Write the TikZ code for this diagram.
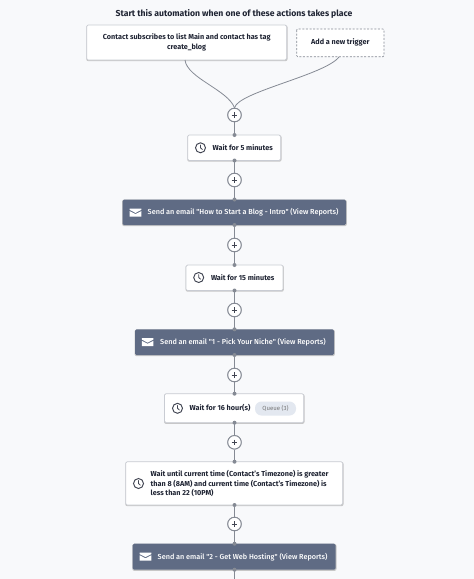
\documentclass[tikz,border=0pt]{standalone}
\usepackage{fontspec}
\setmainfont{Fira Sans}
\newfontfamily\mediumface{Fira Sans Medium}
\usetikzlibrary{calc}
\definecolor{bg}{HTML}{F8F9FB}
\definecolor{slate}{HTML}{5F6B84}
\definecolor{ink}{HTML}{1F2433}
\definecolor{conn}{HTML}{858A94}
\definecolor{edge}{HTML}{C9CCD3}
\definecolor{queue}{HTML}{E3E8F0}
\tikzset{
  x=1pt,y=-1pt,
  txt/.style={font=\fontsize{7.25}{9.7}\selectfont\bfseries,text=ink,align=center,inner sep=0pt},
  mailtxt/.style={font=\fontsize{7.28}{9.7}\selectfont\mediumface,text=white,inner sep=0pt,anchor=west},
  card/.style={draw=edge,line width=.7pt,fill=white,rounded corners=1.5pt},
  emailbox/.style={fill=slate,rounded corners=1.5pt},
  shade/.style={fill=black!22,rounded corners=2pt},
  addbtn/.style={circle,draw=conn,line width=.9pt,fill=white,minimum size=13.5pt,inner sep=0pt},
  link/.style={draw=conn,line width=1.1pt},
  curve/.style={draw=conn,line width=.8pt},
  joint/.style={circle,fill=conn,minimum size=4pt,inner sep=0pt},
}
% name, x1, y1, x2, y2
\newcommand{\cardbox}[5]{%
  \fill[shade] (#2-.4,#3+.2) rectangle (#4+.8,#5+1.2);
  \path[card] (#2,#3) rectangle (#4,#5);
  \coordinate (#1) at ({(#2+#4)/2},{(#3+#5)/2});
  \coordinate (#1t) at (234.5,#3);
  \coordinate (#1b) at (234.5,#5);
}
\newcommand{\mailbox}[5]{%
  \fill[shade] (#2-.4,#3+.2) rectangle (#4+.8,#5+1.2);
  \path[emailbox] (#2,#3) rectangle (#4,#5);
  \coordinate (#1) at ({(#2+#4)/2},{(#3+#5)/2});
  \coordinate (#1t) at (234.5,#3);
  \coordinate (#1b) at (234.5,#5);
}
\newcommand{\clockicon}[2]{%
  \draw[ink!85,line width=.95pt] (#1,#2) circle (5);
  \draw[ink!85,line width=.8pt,line cap=round,line join=round] (#1,#2-2.9) -- (#1,#2) -- (#1+1.9,#2+1.7);
}
\newcommand{\envicon}[2]{%
  \fill[white] (#1-5.8,#2-4) -- (#1+5.8,#2-4) -- (#1+5.8,#2-2.6) -- (#1,#2+.4) -- (#1-5.8,#2-2.6) -- cycle;
  \fill[white] (#1-5.8,#2-1.4) -- (#1,#2+1.6) -- (#1+5.8,#2-1.4) -- (#1+5.8,#2+4) -- (#1-5.8,#2+4) -- cycle;
}
\begin{document}
\begin{tikzpicture}
\useasboundingbox (0,0) rectangle (474,579);
\fill[bg] (0,0) rectangle (474,579);

\node[txt,font=\fontsize{8.65}{10}\selectfont\bfseries] (title) at (234,14) {Start this automation when one of these actions takes place};

\cardbox{trig}{86.7}{25}{286.7}{60}
\node[txt] (trigt) at (186.7,42.3) {Contact subscribes to list Main and contact has tag\\create\_blog};
\path[draw=conn,line width=.7pt,dash pattern=on 2pt off 1.6pt,fill=white,rounded corners=1pt] (296.7,29) rectangle (384,56.7);
\coordinate (add) at (340.3,42.8);
\node[txt] (addt) at (add) {Add a new trigger};

\node[addbtn] (p1) at (234.5,115) {};
\coordinate (tr1) at (185,60);
\coordinate (tr2) at (339,57);
\draw[curve] (tr1) .. controls (187,78) and (228,90) .. (p1.north);
\draw[curve] (tr2) .. controls (325,75) and (238,92) .. (p1.north);

\cardbox{w1}{187.7}{135}{280.7}{160.5}
\cardbox{w2}{186}{265}{283}{290.5}
\cardbox{w3}{164.5}{393.7}{303.7}{422.7}
\cardbox{w4}{125.7}{461.7}{342.7}{505}
\mailbox{m1}{122.5}{199.5}{346}{225}
\mailbox{m2}{135}{329.3}{334}{355}
\mailbox{m3}{132.7}{543.7}{335.7}{569.7}
\coordinate (end) at (234.5,579);

\node[addbtn] (p2) at (234.5,180) {};
\node[addbtn] (p3) at (234.5,245) {};
\node[addbtn] (p4) at (234.5,310) {};
\node[addbtn] (p5) at (234.5,375) {};
\node[addbtn] (p6) at (234.5,442.3) {};
\node[addbtn] (p7) at (234.5,524) {};

\foreach \a/\b in {p1/w1t,w1b/p2,p2/m1t,m1b/p3,p3/w2t,w2b/p4,p4/m2t,m2b/p5,p5/w3t,w3b/p6,p6/w4t,w4b/p7,p7/m3t,m3b/end}
  \draw[link] (\a) -- (\b);
\foreach \j in {w1t,w1b,m1t,m1b,w2t,w2b,m2t,m2b,w3t,w3b,w4t,w4b,m3t,m3b}
  \node[joint] at (\j) {};
\foreach \p in {p1,p2,p3,p4,p5,p6,p7} {
  \node[addbtn] at (\p) {};
  \draw[ink!85,line width=.6pt] ($(\p)+(-2.8,0)$) -- ($(\p)+(2.8,0)$) ($(\p)+(0,-2.8)$) -- ($(\p)+(0,2.8)$);
}

\clockicon{200.5}{147.8}
\node[txt,anchor=west] (w1t2) at (212.5,147.8) {Wait for 5 minutes};
\clockicon{198.7}{277.5}
\node[txt,anchor=west] (w2t2) at (210.8,277.5) {Wait for 15 minutes};
\clockicon{177.5}{408.3}
\node[txt,anchor=west] (w3t2) at (189.5,408.3) {Wait for 16 hour(s)};
\fill[queue,rounded corners=6.5pt] (255,401.5) rectangle (296,415.5);
\node[txt,font=\fontsize{6}{8}\selectfont,text=black!55] (qt) at (275.5,408.5) {Queue (3)};
\clockicon{138.5}{483.5}
\node[txt,anchor=west,align=left] (w4t2) at (150.5,483.5) {Wait until current time (Contact's Timezone) is greater\\than 8 (8AM) and current time (Contact's Timezone) is\\less than 22 (10PM)};

\envicon{135.5}{212.5}
\node[mailtxt] (m1t2) at (147.5,212.5) {Send an email "How to Start a Blog - Intro" (View Reports)};
\envicon{147.6}{342.2}
\node[mailtxt] (m2t2) at (160,342.2) {Send an email "1 - Pick Your Niche" (View Reports)};
\envicon{145.5}{556.7}
\node[mailtxt] (m3t2) at (157.5,556.7) {Send an email "2 - Get Web Hosting" (View Reports)};
\end{tikzpicture}
\end{document}
